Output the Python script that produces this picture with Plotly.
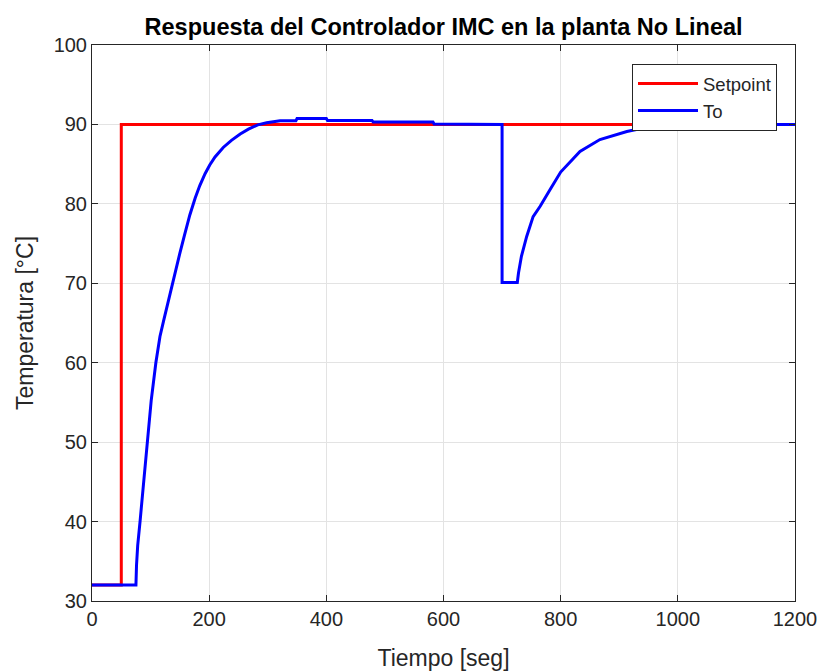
import plotly.graph_objects as go

# Setpoint signal (step at t = 50 s)
t_setpoint = [0, 50, 50, 1200]
setpoint = [32, 32, 90, 90]

# Plant output temperature To
t_to = [0, 75, 76, 78, 82, 88, 94, 101, 109, 116, 122, 128, 133, 139, 145,
        150, 158, 167, 176, 184, 193, 201, 210, 224, 238, 253, 267, 283,
        298, 315, 321, 348, 350, 400, 402, 478, 480, 582, 584, 700,
        700, 726, 728, 733, 742, 753, 765, 782, 800, 833, 867, 913, 958, 992,
        1049, 1200]
to_vals = [32, 32, 34.5, 37.0, 40.0, 45.0, 50.0, 55.2, 60.0, 63.3, 65.2, 67.1,
           68.7, 70.5, 72.3, 73.8, 76.1, 78.6, 80.7, 82.3, 83.8, 84.9, 85.9,
           87.1, 88.0, 88.8, 89.4, 89.95, 90.2, 90.35, 90.45,
           90.45, 90.75, 90.75, 90.5, 90.5, 90.3, 90.3, 90.05, 90.0,
           70.1, 70.1, 71.3, 73.4, 75.9, 78.4, 79.7, 81.8, 84.0, 86.6, 88.1,
           89.1, 89.8, 89.95, 90.0, 90.0]

x_ticks = [0, 200, 400, 600, 800, 1000, 1200]
y_ticks = [30, 40, 50, 60, 70, 80, 90, 100]

FONT = "Liberation Sans, Arial, Helvetica, sans-serif"
INK = "#262626"
GRID = "#e3e3e3"

fig = go.Figure()
fig.add_trace(go.Scatter(x=t_setpoint, y=setpoint, mode="lines",
                         name="Setpoint", line=dict(color="#ff0000", width=3)))
fig.add_trace(go.Scatter(x=t_to, y=to_vals, mode="lines",
                         name="To", line=dict(color="#0000ff", width=3)))

axis_common = dict(
    automargin=False,
    showline=True, linecolor=INK, linewidth=1, mirror="ticks",
    ticks="inside", ticklen=6, tickcolor=INK, tickwidth=1,
    showgrid=True, gridcolor=GRID, gridwidth=1, zeroline=False,
    tickfont=dict(family=FONT, size=20, color=INK),
)

fig.update_layout(
    width=823, height=671,
    margin=dict(l=92, r=28, t=45, b=70),
    paper_bgcolor="white", plot_bgcolor="white",
    font=dict(family=FONT, color=INK),
    title=dict(text="<b>Respuesta del Controlador IMC en la planta No Lineal</b>",
               x=0.539, xanchor="center", y=1 - 27 / 671, yanchor="middle",
               font=dict(family=FONT, size=23.5, color="#000000")),
    xaxis=dict(range=[0, 1200], tickvals=x_ticks,
               title=dict(text="Tiempo [seg]", standoff=20,
                          font=dict(family=FONT, size=23, color=INK)),
               **axis_common),
    yaxis=dict(range=[30, 100], tickvals=y_ticks,
               title=dict(text="Temperatura [°C]", standoff=13,
                          font=dict(family=FONT, size=23, color=INK)),
               **axis_common),
    legend=dict(x=0.9744, xanchor="right", y=0.9658, yanchor="top",
                bgcolor="white", bordercolor=INK, borderwidth=1,
                font=dict(family=FONT, size=18.5, color=INK),
                itemwidth=60, tracegroupgap=0),
    showlegend=True,
)

fig.write_html("out.html")
